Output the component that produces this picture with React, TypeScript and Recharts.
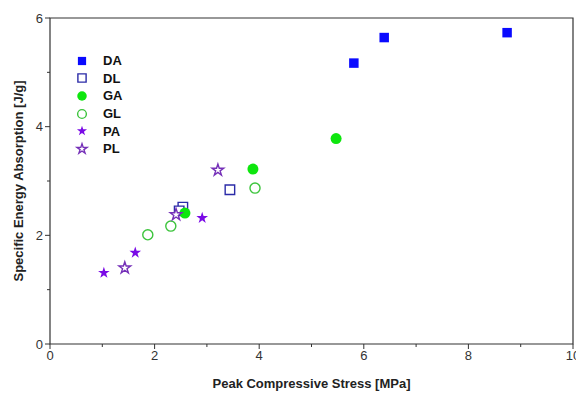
import { ScatterChart, Scatter, XAxis, YAxis, Legend, Symbols, Label, ReferenceArea } from "recharts";

// Peak compressive stress [MPa] / specific energy absorption [J/g]
const daStress = [5.81, 6.39, 8.74];
const daEnergy = [5.17, 5.64, 5.73];
const dlStress = [2.54, 2.47, 3.44];
const dlEnergy = [2.52, 2.45, 2.84];
const gaStress = [2.58, 3.88, 5.47];
const gaEnergy = [2.41, 3.22, 3.78];
const glStress = [1.87, 2.31, 3.92];
const glEnergy = [2.01, 2.17, 2.87];
const paStress = [1.03, 1.63, 2.91];
const paEnergy = [1.31, 1.68, 2.32];
const plStress = [1.43, 2.41, 3.21];
const plEnergy = [1.4, 2.38, 3.2];

// every integer gets a tick, only the even ones get a label
const xTicks = [0, 1, 2, 3, 4, 5, 6, 7, 8, 9, 10];
const yTicks = [0, 1, 2, 3, 4, 5, 6];
const topTicks = [0, 1, 2, 3, 4, 5, 6, 7, 8, 9, 10];

const toPoints = (xs: number[], ys: number[]) => xs.map((x, i) => ({ x, y: ys[i] }));

type SymbolType = "square" | "circle" | "star";

interface SeriesDef {
  name: string;
  data: { x: number; y: number }[];
  type: SymbolType;
  size: number;
  color: string;
  open: boolean;
}

const series: SeriesDef[] = [
  { name: "DA", data: toPoints(daStress, daEnergy), type: "square", size: 90, color: "#0a0aff", open: false },
  { name: "DL", data: toPoints(dlStress, dlEnergy), type: "square", size: 90, color: "#2b2ba8", open: true },
  { name: "GA", data: toPoints(gaStress, gaEnergy), type: "circle", size: 95, color: "#0ee60e", open: false },
  { name: "GL", data: toPoints(glStress, glEnergy), type: "circle", size: 80, color: "#3cc43c", open: true },
  { name: "PA", data: toPoints(paStress, paEnergy), type: "star", size: 42, color: "#7a0ae6", open: false },
  { name: "PL", data: toPoints(plStress, plEnergy), type: "star", size: 42, color: "#7530b8", open: true },
];

const FONT = "'Liberation Sans', Arial, sans-serif";
const axisColor = "#333333";
const labelStyle = { fontSize: 13, fill: "#333333", fontFamily: FONT };

function marker(s: SeriesDef, cx: number, cy: number, sizeScale = 1) {
  return (
    <Symbols
      cx={cx}
      cy={cy}
      type={s.type}
      size={s.size * sizeScale}
      fill={s.open ? "#ffffff" : s.color}
      stroke={s.color}
      strokeWidth={s.open ? 1.4 : 0}
    />
  );
}

function BottomTick(props: any) {
  const { x, y, payload } = props;
  const major = payload.value % 2 === 0;
  return (
    <g>
      <line x1={x} x2={x} y1={y} y2={y + (major ? 5 : 3)} stroke={axisColor} strokeWidth={1} />
      {major && (
        <text x={x} y={y + 7} dy="0.71em" textAnchor="middle" style={labelStyle}>
          {payload.value}
        </text>
      )}
    </g>
  );
}

function LeftTick(props: any) {
  const { x, y, payload } = props;
  const major = payload.value % 2 === 0;
  return (
    <g>
      <line x1={x - (major ? 5 : 3)} x2={x} y1={y} y2={y} stroke={axisColor} strokeWidth={1} />
      {major && (
        <text x={x - 7} y={y} dy="0.355em" textAnchor="end" style={labelStyle}>
          {payload.value}
        </text>
      )}
    </g>
  );
}

function LegendBox() {
  return (
    <div style={{ fontFamily: FONT, fontWeight: 700, fontSize: 13, color: "#111111" }}>
      {series.map((s) => (
        <div key={s.name} style={{ display: "flex", alignItems: "center", height: 17.6 }}>
          <svg width={30} height={16} style={{ display: "block" }}>
            {marker(s, 9, 8, 0.75)}
          </svg>
          <span>{s.name}</span>
        </div>
      ))}
    </div>
  );
}

export default function App() {
  return (
    <div style={{ position: "absolute", left: 0, top: 0, width: 576, height: 393, background: "#ffffff" }}>
      <ScatterChart width={576} height={393} margin={{ top: 18, right: 3, left: 0, bottom: 0 }}>
        {/* full frame round the plot */}
        <ReferenceArea
          xAxisId="x"
          yAxisId="y"
          x1={0}
          x2={10}
          y1={0}
          y2={6}
          fill="none"
          stroke={axisColor}
          strokeWidth={1.2}
          ifOverflow="visible"
        />
        <XAxis
          xAxisId="x"
          dataKey="x"
          type="number"
          domain={[0, 10]}
          ticks={xTicks}
          interval={0}
          tickSize={0}
          tickMargin={0}
          tickLine={false}
          axisLine={false}
          height={49}
          tick={<BottomTick />}
          allowDataOverflow
        >
          <Label
            content={({ viewBox }: any) => (
              <text
                x={viewBox.x + viewBox.width / 2}
                y={388}
                textAnchor="middle"
                style={{ fontFamily: FONT, fontWeight: 700, fontSize: 13, fill: "#222222" }}
              >
                Peak Compressive Stress [MPa]
              </text>
            )}
          />
        </XAxis>
        <XAxis
          xAxisId="xtop"
          orientation="top"
          type="number"
          domain={[0, 10]}
          ticks={topTicks}
          interval={0}
          tickSize={4}
          tick={false}
          mirror
          height={0}
          axisLine={false}
          stroke={axisColor}
        />
        <YAxis
          yAxisId="y"
          dataKey="y"
          type="number"
          domain={[0, 6]}
          ticks={yTicks}
          interval={0}
          tickSize={0}
          tickMargin={0}
          tickLine={false}
          axisLine={false}
          width={50}
          tick={<LeftTick />}
          allowDataOverflow
        >
          <Label
            content={({ viewBox }: any) => {
              const cx = 18;
              const cy = viewBox.y + viewBox.height / 2;
              return (
                <text
                  x={cx}
                  y={cy}
                  transform={`rotate(-90 ${cx} ${cy})`}
                  textAnchor="middle"
                  dominantBaseline="central"
                  style={{ fontFamily: FONT, fontWeight: 700, fontSize: 13, fill: "#222222" }}
                >
                  Specific Energy Absorption [J/g]
                </text>
              );
            }}
          />
        </YAxis>
        <Legend
          layout="horizontal"
          verticalAlign="middle"
          align="center"
          content={() => <LegendBox />}
          wrapperStyle={{ position: "absolute", left: 73, top: 52, width: 80 }}
        />
        {series.map((s) => (
          <Scatter
            key={s.name}
            name={s.name}
            data={s.data}
            xAxisId="x"
            yAxisId="y"
            isAnimationActive={false}
            shape={(p: any) => marker(s, p.cx, p.cy)}
          />
        ))}
      </ScatterChart>
    </div>
  );
}
